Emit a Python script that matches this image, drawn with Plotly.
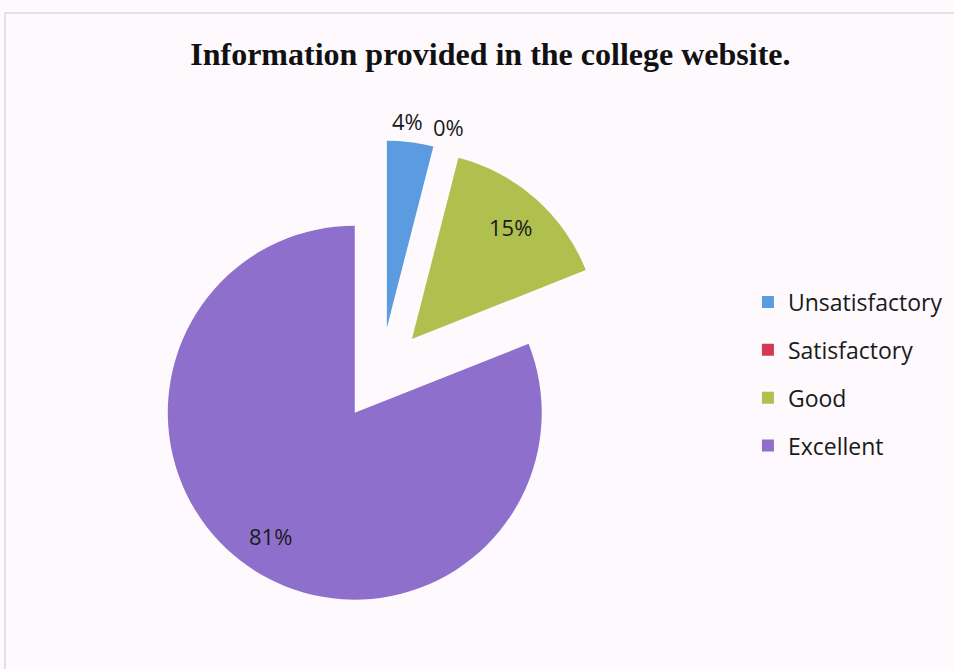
import math
import plotly.graph_objects as go

categories = ["Unsatisfactory", "Satisfactory", "Good", "Excellent"]
values = [4, 0, 15, 81]
colors = ["#5b9be0", "#d23a52", "#afc04f", "#8f6fcc"]
label_inside = [False, False, True, True]

W, H = 954, 669
PULL = 0.25
DOM_X = [0.1544, 0.6444]
DOM_Y = [0.0916, 0.7903]

fig = go.Figure()

fig.add_trace(go.Pie(
    labels=categories,
    values=values,
    sort=False,
    direction="clockwise",
    rotation=0,
    pull=[PULL] * len(values),
    marker=dict(colors=colors, line=dict(width=0)),
    textinfo="none",
    showlegend=False,
    domain=dict(x=DOM_X, y=DOM_Y),
    hoverinfo="label+percent",
))

# legend entries built from the same categories/colours
for name, col in zip(categories, colors):
    fig.add_trace(go.Scatter(
        x=[None], y=[None], mode="markers", name=name, legendgroup=name,
        marker=dict(symbol="square", size=12, color=col),
        showlegend=True,
    ))

# data labels placed from each slice's angle (derived from the values)
total = sum(values)
cx = (DOM_X[0] + DOM_X[1]) / 2 * W
cy = (DOM_Y[0] + DOM_Y[1]) / 2 * H
R = min((DOM_X[1] - DOM_X[0]) * W, (DOM_Y[1] - DOM_Y[0]) * H) / 2 / (1 + PULL)
annotations = []
cum = 0
for v, inside in zip(values, label_inside):
    mid = (cum + v / 2) / total * 2 * math.pi
    cum += v
    dist = PULL * R + (0.8 * R if inside else R + 21)
    px = cx + dist * math.sin(mid)
    py = cy + dist * math.cos(mid)
    shift = 0 if inside else (-5 if v > 0 else 4)
    annotations.append(dict(
        x=(px + shift) / W, y=py / H, xref="paper", yref="paper",
        text=f"{round(v / total * 100)}%", showarrow=False,
        xanchor="center", yanchor="middle",
        font=dict(family="Open Sans", size=22, color="#1a1a1a"),
    ))

fig.update_layout(
    width=W, height=H, autosize=False,
    margin=dict(l=0, r=0, t=0, b=0),
    paper_bgcolor="#fdf9fd",
    plot_bgcolor="rgba(0,0,0,0)",
    title=dict(
        text="<b>Information provided in the college website.</b>",
        x=0.514, xanchor="center", y=0.92, yanchor="middle",
        font=dict(family="Liberation Serif", size=32, color="#111111"),
    ),
    xaxis=dict(visible=False),
    yaxis=dict(visible=False),
    legend=dict(
        x=0.784, xanchor="left", y=0.441, yanchor="middle",
        font=dict(family="Open Sans", size=23, color="#1a1a1a"),
        tracegroupgap=15,
        bgcolor="rgba(0,0,0,0)",
    ),
    annotations=annotations,
    shapes=[
        dict(type="line", xref="paper", yref="paper", x0=0.0052, x1=1.0, y0=0.9806, y1=0.9806,
             line=dict(color="#c9c9cf", width=1)),
        dict(type="line", xref="paper", yref="paper", x0=0.0052, x1=0.0052, y0=0.0, y1=0.9806,
             line=dict(color="#c9c9cf", width=1)),
    ],
)

fig.write_html("out.html", config={"responsive": False, "displayModeBar": False},
               post_script="document.body.style.margin='0';document.body.style.overflow='hidden';")
